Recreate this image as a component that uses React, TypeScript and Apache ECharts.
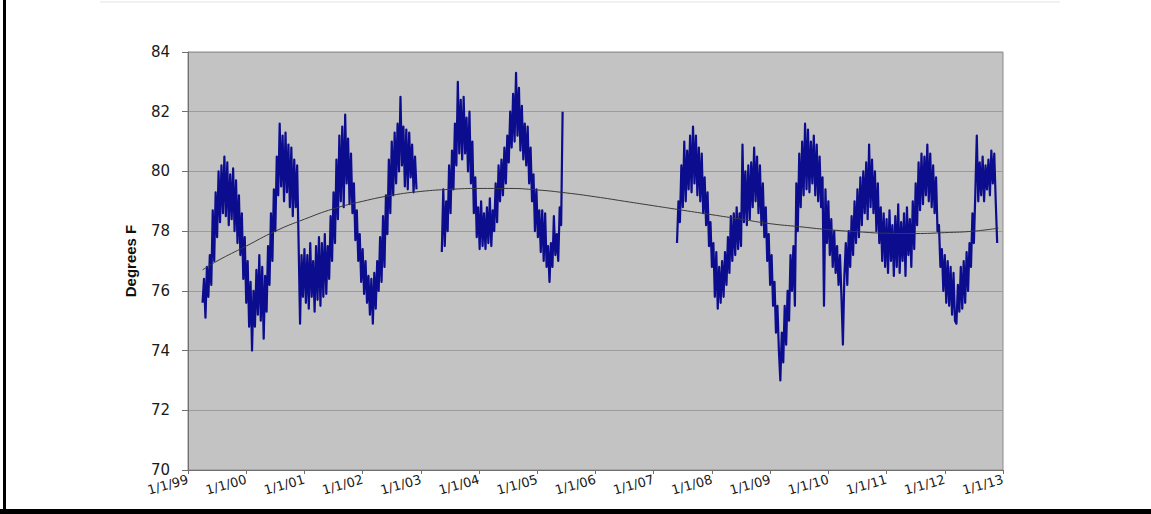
import React, { useEffect, useRef } from "react";
import * as echarts from "echarts";

// x axis: years (decimal), ticks at 1/1 of each year
const yearTicks = [1999, 2000, 2001, 2002, 2003, 2004, 2005, 2006, 2007, 2008, 2009, 2010, 2011, 2012, 2013];
const yTicks = [70, 72, 74, 76, 78, 80, 82, 84];

// readings were sampled every 0.025 year within each recorded stretch
const sampleStep = 0.025;

const seg1Start = 1999.25;
const seg1Values = [
  75.6, 76.4, 75.1, 76.8, 75.8, 77.2, 76.2, 78.7, 77.0, 79.3,
  77.8, 80.0, 78.3, 80.2, 78.6, 80.5, 78.5, 80.3, 78.2, 79.9,
  78.4, 80.1, 78.0, 79.7, 77.6, 79.2, 77.2, 78.6, 76.4, 77.8,
  75.6, 77.0, 74.8, 76.3, 74.0, 76.0, 74.8, 76.7, 75.2, 77.2,
  75.0, 76.8, 74.4, 76.5, 75.3, 77.5, 76.2, 78.6, 77.0, 79.4,
  78.0, 80.5, 79.2, 81.6, 79.5, 81.2, 79.0, 81.3, 79.3, 80.9,
  78.8, 80.8, 78.5, 80.4, 78.8, 80.2, 77.6, 74.9, 77.2, 75.8,
  77.4, 75.6, 77.2, 75.4, 77.6, 75.8, 77.0, 75.3, 77.5, 75.7,
  77.8, 75.5, 77.6, 75.8, 77.9, 75.9, 77.5, 76.4, 78.5, 77.0,
  79.3, 77.6, 80.4, 78.4, 81.2, 79.0, 81.5, 78.8, 81.9, 79.6,
  81.1, 78.9, 80.6, 78.6, 79.6, 77.7, 78.7, 77.0, 77.9, 76.3,
  77.4, 75.9, 77.0, 75.6, 76.5, 75.2, 76.4, 74.9, 76.6, 75.4,
  77.0, 76.0, 77.8, 76.3, 78.5, 76.8, 79.2, 77.9, 80.4, 78.6,
  81.0, 79.2, 81.3, 79.6, 81.6, 80.0, 82.5, 80.2, 81.5, 79.5,
  81.4, 79.4, 81.3, 79.8, 80.9, 79.3, 80.5, 79.4,
];

const seg2Start = 2003.36;
const seg2Values = [
  77.3, 79.4, 77.5, 79.0, 78.0, 80.2, 78.6, 80.7, 79.4, 81.6,
  80.2, 83.0, 80.6, 82.4, 80.4, 82.5, 80.6, 81.8, 80.0, 82.0,
  79.6, 81.0, 78.6, 79.8, 77.8, 78.8, 77.4, 79.0, 77.5, 78.6,
  77.4, 78.8, 77.6, 79.1, 77.5, 78.7, 78.0, 79.6, 78.3, 80.2,
  79.0, 80.4, 79.2, 80.8, 79.6, 81.2, 80.3, 82.0, 80.8, 82.6,
  81.0, 83.3, 81.2, 82.8, 80.7, 82.2, 80.4, 81.6, 80.2, 81.5,
  79.6, 80.8, 79.0, 79.9, 78.0, 79.4, 77.8, 78.7, 77.3, 78.7,
  77.0, 78.6, 76.8, 77.5, 76.3, 77.6, 76.8, 78.5, 77.2, 77.9,
  77.0, 78.8, 78.2, 82.0,
];

const seg3Start = 2007.4;
const seg3Values = [
  77.6, 79.0, 78.3, 80.2, 78.8, 81.0, 79.0, 80.7, 79.4, 81.2,
  79.3, 81.5, 79.6, 81.2, 79.2, 80.8, 79.0, 80.6, 78.6, 79.8,
  78.2, 79.3, 77.5, 78.3, 76.8, 77.6, 75.8, 77.3, 75.4, 76.8,
  75.6, 77.0, 75.8, 77.3, 76.2, 77.8, 76.6, 78.5, 77.0, 78.6,
  77.2, 78.8, 77.4, 78.6, 77.5, 80.9, 78.3, 80.0, 78.2, 80.2,
  78.4, 80.3, 78.8, 80.8, 79.0, 80.5, 78.6, 80.2, 78.2, 79.6,
  77.8, 78.8, 77.0, 77.9, 76.2, 77.2, 75.5, 76.3, 74.6, 75.5,
  74.0, 73.0, 74.6, 73.6, 75.5, 74.2, 76.0, 75.0, 77.2, 76.0,
  77.5, 75.5, 79.6, 78.0, 80.6, 78.8, 81.0, 79.2, 81.6, 79.4,
  81.4, 79.3, 81.0, 79.6, 81.2, 79.2, 80.9, 79.0, 80.5, 78.8,
  79.8, 75.5, 79.4, 77.6, 79.0, 77.2, 78.4, 76.8, 78.0, 76.6,
  77.5, 76.2, 77.2, 75.8, 74.2, 76.5, 77.6, 76.2, 78.0, 76.8,
  78.5, 77.2, 79.0, 77.6, 79.4, 77.8, 79.8, 78.2, 80.0, 78.6,
  80.3, 78.4, 80.9, 78.8, 80.4, 78.6, 80.0, 78.0, 79.6, 77.6,
  78.8, 77.0, 78.6, 76.8, 78.4, 76.6, 78.7, 77.0, 78.2, 76.5,
  78.5, 76.8, 78.9, 76.6, 78.3, 77.0, 78.6, 76.5, 78.8, 77.2,
  78.4, 76.8, 79.0, 77.4, 79.6, 78.2, 80.3, 78.7, 80.6, 78.9,
  80.5, 79.2, 80.9, 79.0, 80.6, 78.8, 80.2, 78.6, 79.8, 78.0,
  78.2, 76.8, 77.4, 76.0, 77.2, 75.6, 77.0, 75.5, 76.8, 75.2,
  76.6, 75.0, 74.9, 76.2, 75.3, 76.8, 75.4, 77.0, 75.6, 77.3,
  76.0, 77.6, 76.8, 78.6, 77.6, 79.3, 81.2, 79.0, 80.3, 79.2,
  80.5, 79.0, 80.2, 79.4, 80.4, 79.2, 80.7, 79.6, 80.6, 79.0,
  77.6,
];

// polynomial trend line
const trendYears = [1999.25, 1999.5, 2000, 2000.5, 2001, 2001.5, 2002, 2002.5, 2003, 2003.5, 2004, 2004.5, 2005, 2005.5, 2006, 2006.5, 2007, 2007.5, 2008, 2008.5, 2009, 2009.5, 2010, 2010.5, 2011, 2011.5, 2012, 2012.5, 2012.92];
const trendValues = [76.7, 77.0, 77.5, 78.0, 78.4, 78.75, 79.0, 79.2, 79.33, 79.4, 79.43, 79.43, 79.38, 79.28, 79.15, 79.0, 78.85, 78.7, 78.55, 78.4, 78.25, 78.15, 78.05, 77.98, 77.93, 77.92, 77.95, 78.0, 78.1];

const toPoints = (start: number, values: number[]) =>
  values.map((v, i) => [+(start + i * sampleStep).toFixed(4), v]);

export default function App() {
  const ref = useRef<HTMLDivElement>(null);
  useEffect(() => {
    if (!ref.current) return;
    const chart = echarts.init(ref.current, undefined, { renderer: "svg" });
    const font = "DejaVu Sans, Liberation Sans, Arial, sans-serif";
    const dataLine = (name: string, pts: number[][]) => ({
      name,
      type: "line",
      data: pts,
      showSymbol: false,
      symbol: "none",
      lineStyle: { color: "#0c0c8e", width: 2.2, join: "round" },
      z: 3,
    });
    chart.setOption({
      animation: false,
      backgroundColor: "#ffffff",
      grid: {
        left: 188,
        right: 148,
        top: 52,
        bottom: 44,
        show: true,
        backgroundColor: "#c3c3c3",
        borderColor: "#8a8a8a",
        borderWidth: 1,
      },
      xAxis: {
        type: "value",
        min: yearTicks[0],
        max: yearTicks[yearTicks.length - 1],
        interval: 1,
        axisLine: { show: true, onZero: false, lineStyle: { color: "#707070" } },
        axisTick: { show: true, length: 4, lineStyle: { color: "#707070" } },
        splitLine: { show: false },
        axisLabel: {
          rotate: 16,
          margin: 9,
          fontSize: 13,
          fontFamily: font,
          color: "#1a1a1a",
          formatter: (v: number) => `1/1/${String(v % 100).padStart(2, "0")}`,
        },
      },
      yAxis: {
        type: "value",
        min: yTicks[0],
        max: yTicks[yTicks.length - 1],
        interval: 2,
        name: "Degrees F",
        nameLocation: "middle",
        nameGap: 50,
        nameTextStyle: {
          fontSize: 15,
          fontWeight: "bold",
          fontFamily: "Liberation Sans, Arial, sans-serif",
          color: "#111",
        },
        axisLine: { show: true, lineStyle: { color: "#707070" } },
        axisTick: { show: true, length: 6, lineStyle: { color: "#707070" } },
        splitLine: { show: true, lineStyle: { color: "#9c9c9c", width: 1 } },
        axisLabel: {
          fontSize: 15,
          margin: 18,
          fontFamily: font,
          color: "#1a1a1a",
        },
      },
      graphic: [
        { type: "rect", shape: { x: 3, y: 0, width: 3, height: 514 }, style: { fill: "#000" }, z: 100 },
        { type: "rect", shape: { x: 0, y: 509, width: 1151, height: 5 }, style: { fill: "#000" }, z: 100 },
        { type: "line", shape: { x1: 100, y1: 2, x2: 1060, y2: 2 }, style: { stroke: "#e4e4e4", lineWidth: 1 }, z: 100 },
      ],
      series: [
        dataLine("seg1", toPoints(seg1Start, seg1Values)),
        dataLine("seg2", toPoints(seg2Start, seg2Values)),
        dataLine("seg3", toPoints(seg3Start, seg3Values)),
        {
          name: "trend",
          type: "line",
          data: trendYears.map((y, i) => [y, trendValues[i]]),
          smooth: true,
          showSymbol: false,
          symbol: "none",
          lineStyle: { color: "#3a3a3a", width: 1 },
          z: 4,
        },
      ],
    });
    return () => chart.dispose();
  }, []);
  return (
    <div
      ref={ref}
      style={{ position: "fixed", left: 0, top: 0, width: 1151, height: 514 }}
    />
  );
}
